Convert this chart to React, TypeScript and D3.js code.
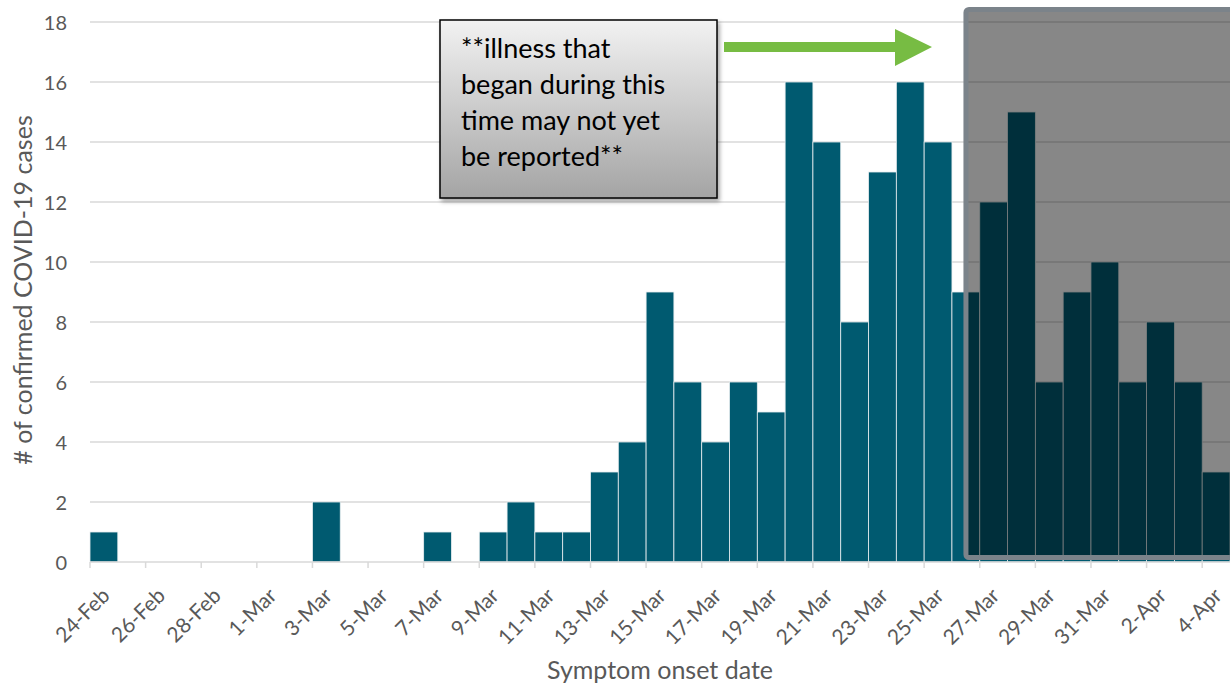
import React from "react";
import * as d3 from "d3";

const dates: string[] = [
  "24-Feb","25-Feb","26-Feb","27-Feb","28-Feb","29-Feb",
  "1-Mar","2-Mar","3-Mar","4-Mar","5-Mar","6-Mar","7-Mar","8-Mar","9-Mar","10-Mar",
  "11-Mar","12-Mar","13-Mar","14-Mar","15-Mar","16-Mar","17-Mar","18-Mar","19-Mar","20-Mar",
  "21-Mar","22-Mar","23-Mar","24-Mar","25-Mar","26-Mar","27-Mar","28-Mar","29-Mar","30-Mar",
  "31-Mar","1-Apr","2-Apr","3-Apr","4-Apr",
];
const cases: number[] = [
  1,0,0,0,0,0,
  0,0,2,0,0,0,1,0,1,2,
  1,1,3,4,9,6,4,6,5,16,
  14,8,13,16,14,9,12,15,6,9,
  10,6,8,6,3,
];
const yTicks: number[] = [0,2,4,6,8,10,12,14,16,18];
const annotationLines: string[] = ["**illness that", "began during this", "time may not yet", "be reported**"];
const shadeStart = "26-Mar";

const W = 1230, H = 690;
const left = 90, right = 1230, top = 22, bottom = 562;
const font = "Lato, 'Open Sans', sans-serif";

export default function App() {
  const x = d3.scaleBand<string>().domain(dates).range([left, right]).padding(0);
  const y = d3.scaleLinear().domain([0, 18]).range([bottom, top]);
  const bw = x.bandwidth();
  const shadeX = (x(shadeStart) as number) + 14;

  return (
    <svg width={W} height={H} style={{ position: "absolute", left: 0, top: 0, background: "#fff" }}>
      <defs>
        <linearGradient id="boxg" x1="0" y1="0" x2="0" y2="1">
          <stop offset="0" stopColor="#f2f2f2" />
          <stop offset="1" stopColor="#a4a4a4" />
        </linearGradient>
        <filter id="shadow" x="-10%" y="-10%" width="130%" height="130%">
          <feDropShadow dx="2" dy="3" stdDeviation="2" floodColor="#000" floodOpacity="0.35" />
        </filter>
      </defs>
      {yTicks.map((t) => (
        <g key={t}>
          {t > 0 && <line x1={left} x2={right} y1={y(t)} y2={y(t)} stroke="#d9d9d9" strokeWidth={1.5} />}
          <text x={67} y={y(t)} textAnchor="end" dominantBaseline="central" fontFamily={font} fontSize={20} fill="#595959">{t}</text>
        </g>
      ))}
      {dates.map((d, i) => (
        <rect key={d} x={x(d) as number} y={y(cases[i])} width={bw} height={bottom - y(cases[i])}
          fill="#005a70" stroke="#e8eef0" strokeWidth={0.8} />
      ))}
      <line x1={left} x2={right} y1={bottom} y2={bottom} stroke="#d9d9d9" strokeWidth={1.5} />
      {dates.map((d, i) => i % 2 === 0 ? (
        <g key={"t" + d}>
          <line x1={x(d) as number} x2={x(d) as number} y1={bottom} y2={bottom + 6} stroke="#d9d9d9" strokeWidth={1.5} />
          <text transform={`translate(${(x(d) as number) + 21},${bottom + 35}) rotate(-45)`} textAnchor="end"
            fontFamily={font} fontSize={21} fill="#595959">{d}</text>
        </g>
      ) : null)}
      <text transform={`translate(22,${290}) rotate(-90)`} textAnchor="middle" dominantBaseline="central"
        fontFamily={font} fontSize={25} fill="#595959"># of confirmed COVID-19 cases</text>
      <text x={660} y={679} textAnchor="middle" fontFamily={font} fontSize={25} fill="#595959">Symptom onset date</text>

      <rect x={shadeX} y={9.5} width={right - shadeX + 10} height={548} rx={3}
        fill="#000" fillOpacity={0.47} stroke="#7b838a" strokeWidth={5} />

      <rect x={440} y={20} width={277} height={178} fill="url(#boxg)" stroke="#000" strokeWidth={1.5} filter="url(#shadow)" />
      {annotationLines.map((l, i) => (
        <text key={i} x={461} y={58 + i * 36} fontFamily={font} fontSize={27} fill="#000">{l}</text>
      ))}
      <path d="M724,42 L895,42 L895,29 L932,47 L895,66 L895,52 L724,52 Z" fill="#77bc43" />
    </svg>
  );
}
